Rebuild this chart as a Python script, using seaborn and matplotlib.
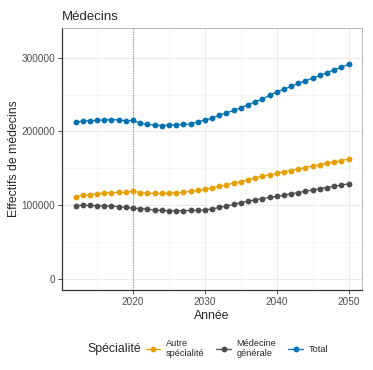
"""Effectifs de médecins par spécialité, 2012-2050 (projection)."""

import matplotlib
matplotlib.use("Agg")
import matplotlib.pyplot as plt
from matplotlib.ticker import MultipleLocator
import pandas as pd
import seaborn as sns

years = list(range(2012, 2051))

autre_specialite = [
    111500, 113500, 114000, 115500, 116500, 117000, 117500, 117500, 119000,
    117000, 116500, 116000, 116000, 116500, 117000, 117500, 119000, 120000,
    121500, 123500, 125500, 127500, 130000, 132000, 134500, 137000, 139500,
    141000, 143000, 145000, 147000, 149000, 151000, 153000, 155000, 157000,
    158500, 160500, 162500,
]
medecine_generale = [
    99500, 99800, 99700, 99500, 99300, 99000, 98000, 97000, 96000,
    95500, 94500, 93500, 93000, 92500, 92500, 92500, 93000, 93000,
    93500, 95000, 97000, 99000, 101000, 103500, 105500, 107500, 109000,
    110500, 112000, 113500, 115500, 117000, 119000, 120500, 122500, 124000,
    125500, 127500, 129000,
]
total = [
    212500, 214000, 214500, 215000, 215500, 216000, 215500, 214500, 215000,
    211000, 209500, 208500, 208000, 208500, 209000, 209500, 210000, 213000,
    215500, 218000, 222000, 225000, 228500, 232000, 236000, 240000, 244000,
    249000, 253500, 257000, 261000, 265000, 268500, 272500, 276000, 279500,
    283500, 287000, 291000,
]

specialites = ["Autre\nspécialité", "Médecine\ngénérale", "Total"]
palette = ["#E69F00", "#4D4D4D", "#0072B2"]

df = pd.concat([
    pd.DataFrame({"Année": years, "Effectifs": vals, "Spécialité": name})
    for name, vals in zip(specialites, [autre_specialite, medecine_generale, total])
])

sns.set_style("white")
plt.rcParams["font.family"] = ["Liberation Sans", "DejaVu Sans"]

fig = plt.figure(figsize=(3.73, 3.70), dpi=100)
ax = fig.add_axes([0.166, 0.216, 0.805, 0.708])

sns.lineplot(data=df, x="Année", y="Effectifs", hue="Spécialité",
             hue_order=specialites, palette=palette, marker="o",
             markersize=4.2, markeredgewidth=0, linewidth=0.9, ax=ax)

ax.axvline(2020, color="#777777", linestyle=(0, (1, 1.5)), linewidth=0.7, zorder=1)

ax.set_xlim(2010.1, 2051.9)
ax.set_ylim(-15000, 340000)
ax.xaxis.set_major_locator(MultipleLocator(10))
ax.xaxis.set_minor_locator(MultipleLocator(5))
ax.yaxis.set_major_locator(MultipleLocator(100000))
ax.yaxis.set_minor_locator(MultipleLocator(50000))
ax.grid(which="major", color="#EBEBEB", linewidth=0.7)
ax.grid(which="minor", color="#F3F3F3", linewidth=0.5)
ax.set_axisbelow(True)

for side in ["top", "right"]:
    ax.spines[side].set_color("#AAAAAA")
    ax.spines[side].set_linewidth(0.6)
for side in ["left", "bottom"]:
    ax.spines[side].set_color("#333333")
    ax.spines[side].set_linewidth(0.9)

ax.tick_params(which="major", length=3, width=0.6, color="#333333",
               labelsize=7.2, labelcolor="#4D4D4D", pad=2, left=True, bottom=True)
ax.tick_params(which="minor", length=0)

ax.set_xlabel("Année", fontsize=8.8, labelpad=2)
ax.set_ylabel("Effectifs de médecins", fontsize=8.8, labelpad=1)
ax.set_title("Médecins", fontsize=9.5, loc="left", pad=6)

handles, labels = ax.get_legend_handles_labels()
ax.legend_.remove()
fig.legend(handles, labels, ncol=3, loc="center", bbox_to_anchor=(0.635, 0.058),
           frameon=False, fontsize=6.6, handlelength=1.6, handletextpad=0.6,
           columnspacing=1.3)
fig.text(0.233, 0.058, "Spécialité", fontsize=8.8, va="center", ha="left")

fig.savefig("out.png", dpi=100)
